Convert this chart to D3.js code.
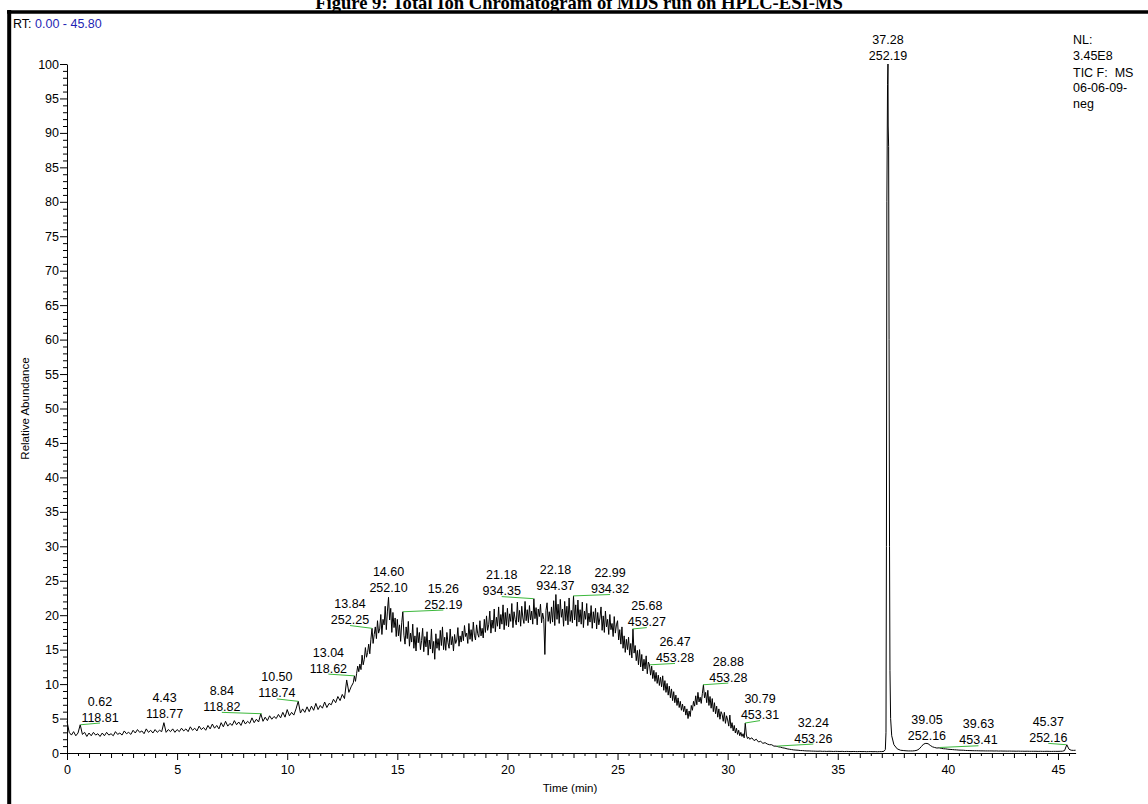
<!DOCTYPE html>
<html><head><meta charset="utf-8">
<script src="https://cdn.jsdelivr.net/npm/d3@7"></script>
<style>
  body { margin: 0; background: #fff; }
  svg { display: block; }
  .pre { white-space: pre; }
</style>
</head><body>
<svg id="chart" width="1148" height="804"></svg>
<script>
// ---- Chromatogram data (relative abundance, %) ----
// 0.0 - 12.9 min, 0.1 min sampling
const traceStartA = 0.0;
const traceStepA = 0.1;
const traceValuesA = [
  4.6, 3.0, 2.6, 3.1, 2.5, 2.9, 4.1, 2.7, 3.0, 2.4,
  2.9, 2.5, 3.0, 2.6, 2.8, 2.4, 2.9, 2.5, 3.0, 2.6,
  2.8, 2.5, 3.1, 2.7, 2.9, 2.6, 3.2, 2.8, 3.0, 2.7,
  3.3, 2.9, 3.4, 3.0, 3.2, 2.8, 3.5, 3.0, 3.3, 2.9,
  3.4, 3.0, 3.3, 3.1, 4.4, 3.0, 3.4, 3.1, 3.5, 3.0,
  3.4, 3.1, 3.6, 3.2, 3.5, 3.1, 3.8, 3.3, 3.6, 3.2,
  3.9, 3.4, 3.7, 3.3, 4.0, 3.5, 4.2, 3.6, 4.0, 3.5,
  4.4, 3.8, 4.6, 3.9, 4.3, 4.0, 4.7, 4.1, 4.5, 4.0,
  4.8, 4.2, 4.6, 4.3, 5.1, 4.4, 4.9, 4.5, 5.7, 4.6,
  5.2, 4.7, 5.4, 4.9, 5.3, 5.0, 5.6, 5.1, 5.9, 5.2,
  6.3, 5.4, 5.9, 5.5, 6.4, 7.5, 5.8, 6.4, 5.9, 6.7,
  6.0, 6.8, 6.2, 7.2, 6.3, 6.9, 6.5, 7.4, 6.6, 7.2,
  7.0, 7.8, 7.3, 8.2, 7.6, 8.5, 7.9, 10.6, 8.8, 9.6
];
// 13.00 - 30.95 min, 0.05 min sampling (noisy elution hump)
const traceStartFine = 13.0;
const traceStepFine = 0.05;
const traceValuesFine = [
  10.2, 11.2, 10.4, 11.5, 12.6, 11.8, 12.9, 12.1, 14.2, 12.8, 13.6, 15.3, 13.9, 14.6, 15.8, 14.4, 16.5, 18.1, 15.9, 17.2,
  18.3, 16.6, 19.2, 17.4, 18.0, 20.1, 17.2, 19.4, 18.6, 21.3, 17.9, 20.6, 22.6, 19.3, 21.0, 17.5, 20.4, 18.2, 19.6, 16.9,
  19.4, 17.0, 18.6, 16.2, 18.9, 20.5, 17.1, 15.8, 18.3, 16.6, 19.1, 15.5, 17.4, 16.1, 18.7, 15.2, 17.0, 14.8, 18.2, 16.0,
  17.5, 15.0, 16.3, 18.1, 14.7, 16.9, 15.4, 17.6, 14.2, 16.4, 15.1, 18.0, 14.5, 16.2, 13.6, 17.3, 15.2, 16.6, 14.9, 17.8,
  15.6, 18.3, 15.0, 16.8, 14.9, 17.5, 16.0, 15.2, 18.0, 15.7, 16.9, 14.8, 17.2, 15.9, 16.4, 18.2, 15.5, 17.0, 16.1, 17.7,
  16.3, 18.5, 16.9, 17.4, 15.9, 18.8, 16.5, 17.9, 16.2, 19.0, 17.1, 16.4, 18.6, 17.3, 16.8, 19.2, 17.0, 18.1, 16.7, 19.4,
  17.5, 19.9, 17.8, 18.6, 20.6, 17.4, 19.3, 18.1, 20.9, 17.6, 19.7, 18.4, 21.2, 18.0, 20.1, 18.7, 21.5, 17.9, 20.4, 18.5,
  21.0, 18.3, 20.2, 19.1, 21.7, 18.2, 20.5, 19.4, 18.6, 21.9, 19.0, 20.7, 18.4, 21.3, 19.6, 18.8, 22.0, 19.2, 20.8, 18.9,
  21.4, 19.3, 20.6, 18.7, 22.4, 19.5, 21.1, 18.6, 20.9, 19.8, 21.6, 18.9, 20.3, 19.4, 14.3, 20.7, 21.8, 19.1, 20.5, 18.8,
  21.2, 19.0, 22.1, 18.5, 23.0, 19.4, 21.6, 18.8, 22.3, 19.7, 20.9, 18.4, 22.0, 19.2, 21.3, 18.6, 22.5, 19.1, 20.7, 18.9,
  22.8, 19.3, 21.5, 18.4, 22.2, 19.0, 20.8, 18.7, 21.9, 18.2, 20.6, 19.4, 21.7, 18.5, 20.3, 19.0, 21.4, 18.1, 20.5, 18.9,
  21.0, 18.0, 20.4, 18.6, 19.6, 21.2, 17.8, 19.9, 17.5, 20.6, 18.3, 19.4, 17.2, 20.1, 17.9, 18.8, 16.9, 19.8, 17.4, 18.6,
  19.2, 16.4, 17.9, 15.8, 18.3, 15.2, 17.0, 14.6, 16.5, 15.0, 16.8, 14.2, 15.9, 13.8, 18.0, 14.5, 15.6, 13.4, 14.9, 12.8,
  15.0, 12.5, 14.3, 11.9, 13.6, 12.2, 14.1, 11.5, 13.2, 12.8, 11.3, 12.6, 10.8, 12.0, 10.4, 11.7, 10.1, 11.3, 9.8, 11.0,
  9.6, 11.2, 9.1, 10.5, 8.8, 10.1, 8.4, 9.7, 8.0, 9.3, 7.6, 8.9, 7.3, 8.4, 6.9, 8.0, 6.6, 7.5, 6.2, 7.1,
  6.0, 6.8, 5.5, 6.4, 5.0, 6.1, 5.3, 6.9, 6.2, 7.5, 6.8, 8.3, 7.0, 8.8, 7.4, 8.1, 7.2, 8.6, 9.9, 8.0,
  8.8, 7.3, 9.1, 6.9, 8.2, 6.5, 7.9, 6.0, 7.3, 5.7, 6.8, 5.2, 6.4, 4.9, 6.0, 5.6, 4.6, 5.9, 4.3, 5.4,
  4.8, 3.9, 5.5, 3.6, 4.4, 3.2, 4.0, 2.9, 3.6, 2.7, 3.3, 2.5, 3.0, 2.4, 2.8, 2.2, 4.35, 2.6, 2.1, 2.3
];
// 31.0 - 37.0 min, 0.1 min sampling
const traceStartC = 31.0;
const traceStepC = 0.1;
const traceValuesC = [
  2.0, 2.2, 1.8, 2.0, 1.6, 1.7, 1.4, 1.5, 1.3, 1.2,
  1.2, 1.0, 1.0, 0.9, 0.85, 0.75, 0.7, 0.6, 0.55, 0.5,
  0.45, 0.42, 0.4, 0.36, 0.35, 0.32, 0.3, 0.3, 0.28, 0.27,
  0.26, 0.25, 0.27, 0.24, 0.25, 0.23, 0.25, 0.24, 0.22, 0.24,
  0.23, 0.22, 0.24, 0.21, 0.23, 0.22, 0.2, 0.22, 0.21, 0.2,
  0.22, 0.2, 0.21, 0.19, 0.2, 0.21, 0.19, 0.2, 0.18, 0.2,
  0.2
];
// Base peak at 37.28 min, finer sampling
const mainPeakTimes  = [37.10, 37.16, 37.19, 37.21, 37.23, 37.26, 37.28, 37.29, 37.31, 37.33, 37.35, 37.37, 37.40, 37.45, 37.55, 37.70, 37.85];
const mainPeakValues = [0.25, 0.5, 3, 30, 80, 97, 100, 91, 88, 60, 30, 12, 5, 2.5, 1.2, 0.6, 0.4];
// 38.0 - 45.8 min, 0.1 min sampling
const traceStartB = 38.0;
const traceStepB = 0.1;
const traceValuesB = [
  0.35, 0.32, 0.3, 0.3, 0.3, 0.33, 0.4, 0.6, 0.95, 1.3,
  1.4, 1.35, 1.1, 0.9, 0.8, 0.72, 0.75, 0.68, 0.62, 0.6,
  0.55, 0.52, 0.5, 0.47, 0.45, 0.42, 0.41, 0.4, 0.37, 0.36,
  0.35, 0.34, 0.33, 0.33, 0.32, 0.31, 0.31, 0.3, 0.3, 0.3,
  0.3, 0.29, 0.3, 0.28, 0.29, 0.28, 0.28, 0.27, 0.28, 0.27,
  0.27, 0.26, 0.27, 0.26, 0.26, 0.25, 0.26, 0.25, 0.25, 0.25,
  0.25, 0.24, 0.25, 0.24, 0.24, 0.25, 0.24, 0.23, 0.24, 0.24,
  0.24, 0.25, 0.26, 0.35, 1.2, 0.55, 0.4, 0.38, 0.4
];

// Labelled peaks: retention time, base m/z, apex abundance, and label anchor (time, abundance)
const peakRT     = [0.62, 4.43, 8.84, 10.50, 13.04, 13.84, 14.60, 15.26, 21.18, 22.18, 22.99, 25.68, 26.47, 28.88, 30.79, 32.24, 37.28, 39.05, 39.63, 45.37];
const peakMZ     = ["118.81", "118.77", "118.82", "118.74", "118.62", "252.25", "252.10", "252.19", "934.35", "934.37", "934.32", "453.27", "453.28", "453.28", "453.31", "453.26", "252.19", "252.16", "453.41", "252.16"];
const peakApex   = [4.1, 4.4, 5.7, 7.5, 11.2, 18.1, 22.6, 20.5, 22.4, 23.0, 22.8, 18.0, 12.8, 9.9, 4.35, 1.0, 100, 1.4, 0.8, 1.2];
const labelRT    = [1.50, 4.43, 7.03, 9.53, 11.87, 12.85, 14.60, 17.09, 19.74, 22.18, 24.66, 26.33, 27.61, 30.03, 31.47, 33.89, 37.28, 39.05, 41.39, 44.56];
const labelLevel = [4.35, 4.8, 5.9, 7.85, 11.45, 18.5, 23.2, 20.75, 22.7, 23.5, 23.0, 18.2, 13.0, 10.15, 4.7, 1.3, 100.4, 1.65, 1.05, 1.4];

// Axis ticks
const xMajorTicks = [0, 5, 10, 15, 20, 25, 30, 35, 40, 45];
const yMajorTicks = [0, 5, 10, 15, 20, 25, 30, 35, 40, 45, 50, 55, 60, 65, 70, 75, 80, 85, 90, 95, 100];

// Header and side text
const titleText = "Figure 9: Total Ion Chromatogram of MDS run on HPLC-ESI-MS";
const rangeLabel = "RT:";
const rangeValue = "0.00 - 45.80";
const infoLines = ["NL:", "3.45E8", "TIC F:  MS", "06-06-09-", "neg"];

// ---- Build the trace ----
const trace = [];
const addGrid = (start, step, values) =>
  values.forEach((v, i) => trace.push([+(start + i * step).toFixed(3), v]));
addGrid(traceStartA, traceStepA, traceValuesA);
addGrid(traceStartFine, traceStepFine, traceValuesFine);
addGrid(traceStartC, traceStepC, traceValuesC);
mainPeakTimes.forEach((t, i) => trace.push([t, mainPeakValues[i]]));
addGrid(traceStartB, traceStepB, traceValuesB);

// ---- Drawing ----
const svg = d3.select("#chart");
const FONT = "'Liberation Sans', Arial, sans-serif";

const x = d3.scaleLinear().domain([0, 45.8]).range([67, 1075.6]);
const y = d3.scaleLinear().domain([0, 100]).range([753, 64]);

// Title (runs off the top of the page)
svg.append("text")
  .attr("x", 579).attr("y", 9)
  .attr("text-anchor", "middle")
  .attr("font-family", "'Liberation Serif', 'Times New Roman', serif")
  .attr("font-weight", "bold")
  .attr("font-size", 18.6)
  .text(titleText);

// Frame: heavy top rule and left rule
svg.append("line").attr("x1", 7).attr("x2", 1148).attr("y1", 12).attr("y2", 12)
  .attr("stroke", "#000").attr("stroke-width", 3.5);
svg.append("line").attr("x1", 9.2).attr("x2", 9.2).attr("y1", 10).attr("y2", 804)
  .attr("stroke", "#000").attr("stroke-width", 4);

// RT range
const rt = svg.append("text").attr("x", 13).attr("y", 28)
  .attr("font-family", FONT).attr("font-size", 12.5);
rt.append("tspan").attr("fill", "#000").text(rangeLabel + " ");
rt.append("tspan").attr("fill", "#1f1fb4").text(rangeValue);

// Info block
svg.append("g").selectAll("text").data(infoLines).join("text")
  .attr("class", "pre")
  .attr("x", 1073)
  .attr("y", (d, i) => [44, 60, 76.5, 92, 107.5][i])
  .attr("font-family", FONT).attr("font-size", 12.5)
  .text(d => d);

// X axis: half-minute, one-minute and five-minute ticks
const xg = svg.append("g").attr("transform", `translate(0,${y(0)})`);
xg.append("g")
  .call(d3.axisBottom(x).tickValues(d3.range(0.5, 45.8, 1)).tickSize(3).tickFormat("").tickSizeOuter(0))
  .call(g => g.select(".domain").remove());
xg.append("g")
  .call(d3.axisBottom(x).tickValues(d3.range(1, 46, 1).filter(v => v % 5 !== 0)).tickSize(5).tickFormat("").tickSizeOuter(0))
  .call(g => g.select(".domain").remove());
xg.append("g")
  .call(d3.axisBottom(x).tickValues(xMajorTicks).tickSize(7).tickPadding(5).tickSizeOuter(0))
  .call(g => g.selectAll("text").attr("font-family", FONT).attr("font-size", 12.5).attr("fill", "#000"));
xg.selectAll("line, path").attr("stroke", "#000").attr("stroke-width", 1);

// Y axis
const yg = svg.append("g").attr("transform", `translate(${x(0)},0)`);
yg.append("g")
  .call(d3.axisLeft(y).tickValues(d3.range(0, 101, 1).filter(v => v % 5 !== 0)).tickSize(4).tickFormat("").tickSizeOuter(0))
  .call(g => g.select(".domain").remove());
yg.append("g")
  .call(d3.axisLeft(y).tickValues(yMajorTicks).tickSize(7).tickPadding(1).tickSizeOuter(0))
  .call(g => g.selectAll("text").attr("font-family", FONT).attr("font-size", 12.5).attr("fill", "#000"));
yg.selectAll("line, path").attr("stroke", "#000").attr("stroke-width", 1);

// Axis titles
svg.append("text")
  .attr("x", 570).attr("y", 792)
  .attr("text-anchor", "middle")
  .attr("font-family", FONT).attr("font-size", 11.5)
  .text("Time (min)");
svg.append("text")
  .attr("transform", `translate(29,${(y(0) + y(100)) / 2}) rotate(-90)`)
  .attr("text-anchor", "middle")
  .attr("font-family", FONT).attr("font-size", 11.5)
  .text("Relative Abundance");

// Chromatogram trace
const line = d3.line().x(d => x(d[0])).y(d => y(d[1]));
svg.append("path")
  .datum(trace)
  .attr("d", line)
  .attr("fill", "none")
  .attr("stroke", "#000")
  .attr("stroke-width", 1)
  .attr("stroke-linejoin", "miter");

// Peak annotations: leader line from apex to label, then RT and m/z
const peaks = peakRT.map((t, i) => ({
  rt: t, mz: peakMZ[i], apex: peakApex[i], lx: labelRT[i], ly: labelLevel[i]
}));
const ann = svg.append("g");
ann.selectAll("line").data(peaks.filter(p => p.lx !== p.rt)).join("line")
  .attr("x1", p => x(p.rt)).attr("y1", p => y(p.apex))
  .attr("x2", p => x(p.lx)).attr("y2", p => y(p.ly))
  .attr("stroke", "#3cb83c").attr("stroke-width", 1);
const labels = ann.selectAll("g.lbl").data(peaks).join("g").attr("class", "lbl")
  .attr("transform", p => `translate(${x(p.lx)},${y(p.ly) - 1.5})`);
labels.append("text")
  .attr("y", -16)
  .attr("text-anchor", "middle")
  .attr("font-family", FONT).attr("font-size", 12.5)
  .text(p => p.rt.toFixed(2));
labels.append("text")
  .attr("y", 0)
  .attr("text-anchor", "middle")
  .attr("font-family", FONT).attr("font-size", 12.5)
  .text(p => p.mz);
</script>
</body></html>
